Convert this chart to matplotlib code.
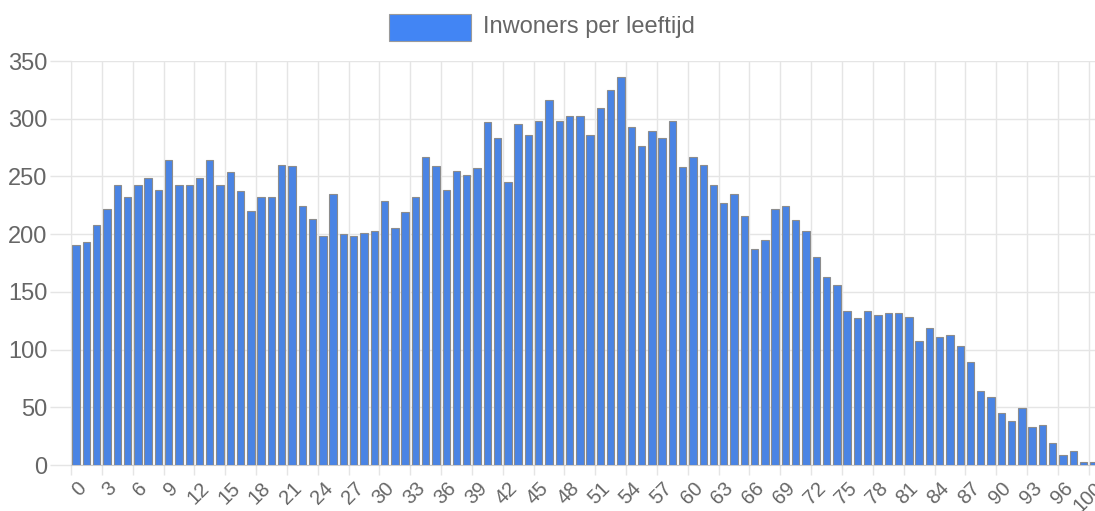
import matplotlib
matplotlib.use('Agg')
import matplotlib.pyplot as plt
from matplotlib.patches import Rectangle

plt.rcParams['font.family'] = ['Liberation Sans', 'DejaVu Sans']

# leeftijden (99 komt niet voor in de data)
ages = [str(a) for a in range(0, 99)] + ['100']
inwoners = [191, 193, 208, 222, 243, 232, 243, 249, 238, 264,
            243, 243, 249, 264, 243, 254, 237, 220, 232, 232,
            260, 259, 224, 213, 198, 235, 200, 198, 201, 203,
            229, 205, 219, 232, 267, 259, 238, 255, 251, 257,
            297, 283, 245, 295, 286, 298, 316, 298, 302, 302,
            286, 309, 325, 336, 293, 276, 289, 283, 298, 258,
            267, 260, 243, 227, 235, 216, 187, 195, 222, 224,
            212, 203, 180, 163, 156, 133, 127, 133, 130, 132,
            132, 128, 107, 119, 111, 113, 103, 89, 64, 59,
            45, 38, 49, 33, 35, 19, 9, 12, 3, 3]
legend_label = 'Inwoners per leeftijd'
yticks = [0, 50, 100, 150, 200, 250, 300, 350]

W, H = 1095, 511
fig = plt.figure(figsize=(W / 100, H / 100), dpi=100)
ax = fig.add_axes([71 / W, 46 / H, 1028 / W, 404 / H])

x = list(range(len(ages)))
ax.bar(x, inwoners, width=0.72, color='#4a84e4', edgecolor='#8c8c8c', linewidth=0.8, zorder=3)

ax.set_xlim(-0.5, len(ages) - 0.5)
ax.set_ylim(0, 350)

# labels op elke derde categorie, rasterlijnen op de linkerrand
shown = [i for i in x if i % 3 == 0]
ax.set_xticks(shown)
ax.set_xticklabels([ages[i] for i in shown], rotation=45, ha='right', rotation_mode='anchor',
                   fontsize=14.5, color='#666666')
ax.set_xticks([i - 0.5 for i in shown], minor=True)
ax.tick_params(axis='x', which='major', length=0, pad=10)
ax.tick_params(axis='x', which='minor', length=7, color='#e5e5e5', width=1)
ax.grid(axis='x', which='minor', color='#e5e5e5', linewidth=1, zorder=0)

ax.set_yticks(yticks)
ax.set_yticklabels([str(v) for v in yticks], fontsize=17, color='#666666')
ax.tick_params(axis='y', length=15, color='#e5e5e5', width=1, pad=2)
ax.grid(axis='y', color='#e5e5e5', linewidth=1, zorder=0)

for side in ['top', 'right']:
    ax.spines[side].set_visible(False)
ax.spines['left'].set_color('#e5e5e5')
ax.spines['bottom'].set_color('#cccccc')

# legenda
fig.patches.append(Rectangle((389 / W, (H - 41) / H), 82 / W, 27 / H, transform=fig.transFigure,
                             facecolor='#4285f4', edgecolor='#9a9a9a', linewidth=0.8))
fig.text(483 / W, (H - 27) / H, legend_label, fontsize=17, color='#666666', va='center', ha='left')

fig.savefig('out.png', dpi=100)
